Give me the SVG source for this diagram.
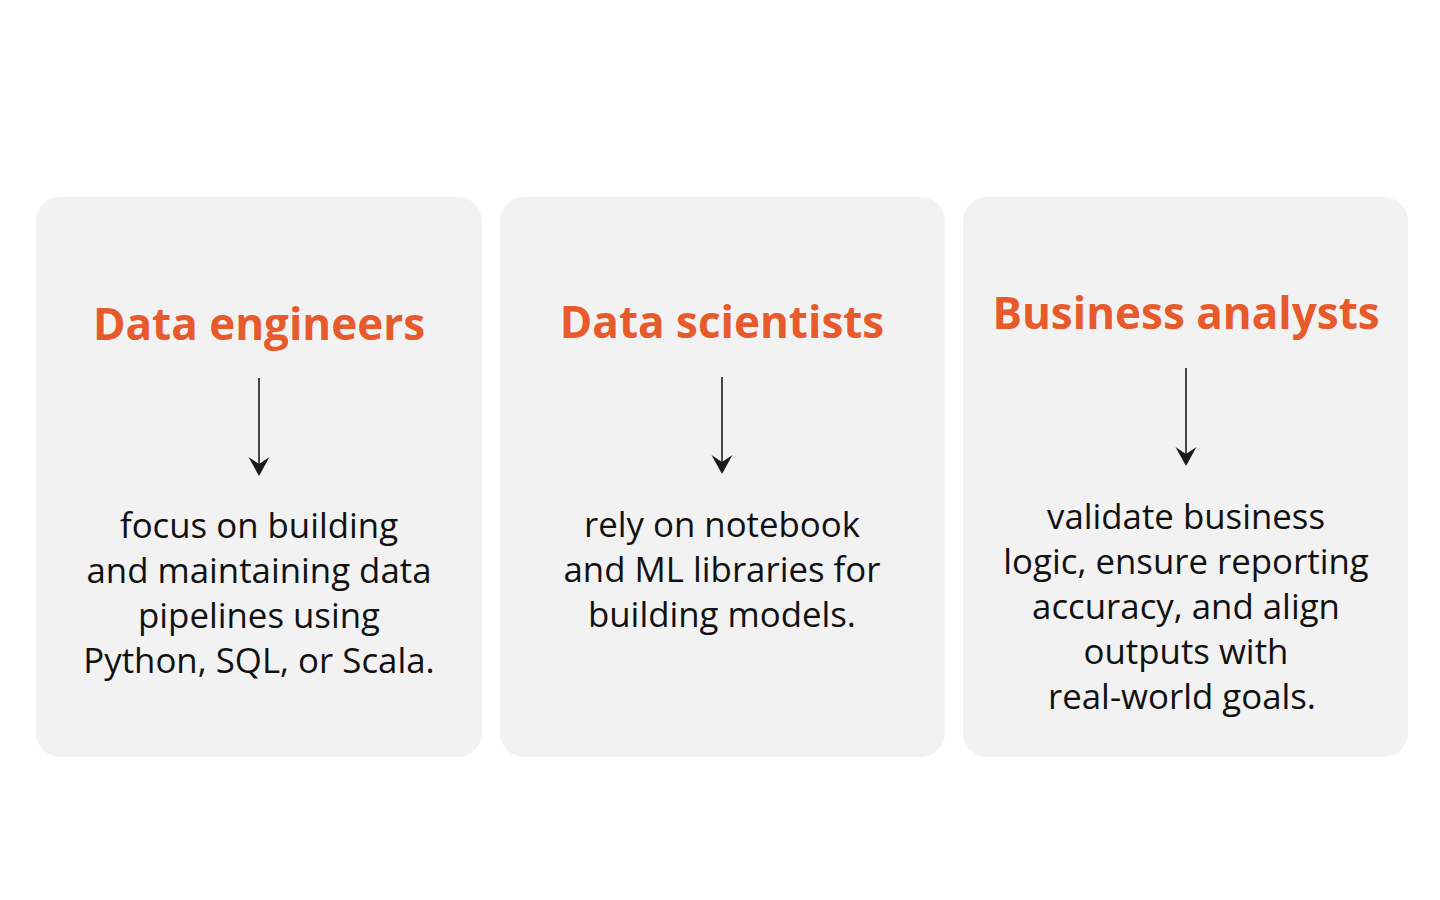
<svg xmlns="http://www.w3.org/2000/svg" width="1440" height="900" viewBox="0 0 1440 900">
<style>
.card{fill:#f2f2f2}
.title{font-family:"Open Sans","Noto Sans",sans-serif;font-weight:700;font-size:44px;fill:#e65a2b;text-anchor:middle}
.body{font-family:"Open Sans","Noto Sans",sans-serif;font-size:34.8px;fill:#111;text-anchor:middle}
.conn{stroke:#1a1a1a;stroke-width:1.6;fill:none}
.head{fill:#1a1a1a}
</style>
<rect width="1440" height="900" fill="#ffffff"/>
<g id="node-engineers">
<rect class="card" x="36" y="197" width="446" height="560" rx="24"/>
<text class="title" x="259" y="340">Data engineers</text>
<text class="body"><tspan x="259" y="538">focus on building</tspan><tspan x="259" y="583">and maintaining data</tspan><tspan x="259" y="628">pipelines using</tspan><tspan x="259" y="673">Python, SQL, or Scala.</tspan></text>
</g>
<g id="node-scientists">
<rect class="card" x="500" y="197" width="445" height="560" rx="24"/>
<text class="title" x="722" y="338">Data scientists</text>
<text class="body"><tspan x="722" y="537">rely on notebook</tspan><tspan x="722" y="582">and ML libraries for</tspan><tspan x="722" y="627">building models.</tspan></text>
</g>
<g id="node-analysts">
<rect class="card" x="963" y="197" width="445" height="560" rx="24"/>
<text class="title" x="1186" y="329">Business analysts</text>
<text class="body"><tspan x="1186" y="529">validate business</tspan><tspan x="1186" y="574">logic, ensure reporting</tspan><tspan x="1186" y="619">accuracy, and align</tspan><tspan x="1186" y="664">outputs with</tspan><tspan x="1182" y="709">real-world goals.</tspan></text>
</g>
<g id="connectors">
<line class="conn" x1="259" y1="378" x2="259" y2="466"/>
<path class="head" d="M248.5,457 L259,476 L269.5,457 L259,464 Z"/>
<line class="conn" x1="722" y1="377" x2="722" y2="464"/>
<path class="head" d="M711.5,455 L722,474 L732.5,455 L722,462 Z"/>
<line class="conn" x1="1186" y1="368" x2="1186" y2="456"/>
<path class="head" d="M1175.5,447 L1186,466 L1196.5,447 L1186,454 Z"/>
</g>
</svg>
